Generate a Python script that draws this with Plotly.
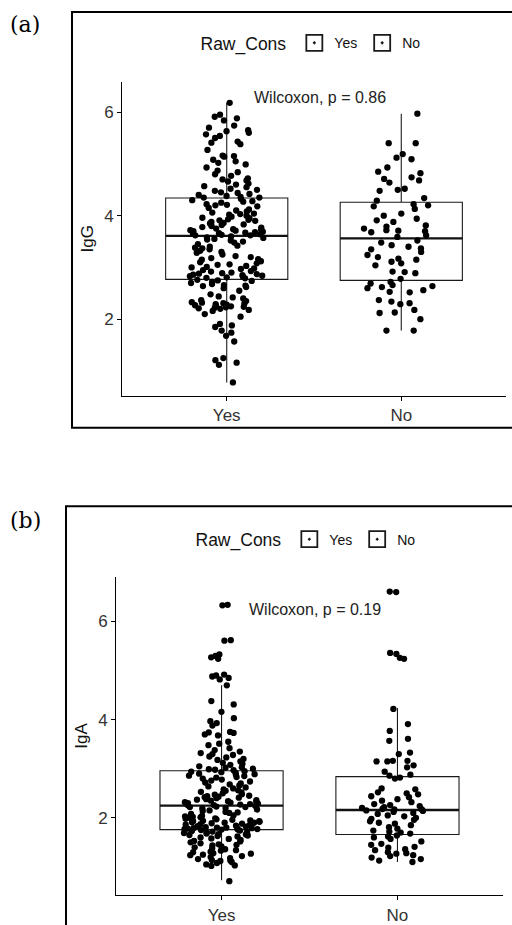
import plotly.graph_objects as go

# ---------------- data ----------------
categories = ["Yes", "No"]

# Panel (a) IgG
igg_yes = [6.18, 5.95, 5.91, 5.88, 5.84, 5.74, 5.70, 5.65, 5.63, 5.60, 5.57, 5.54, 5.50, 5.43, 5.41, 5.38,
           5.27, 5.16, 5.15, 5.14, 5.08, 5.05, 5.02, 4.99, 4.93, 4.87, 4.84, 4.80, 4.77, 4.72, 4.70, 4.68,
           4.66, 4.62, 4.60, 4.57, 4.55, 4.52, 4.50, 4.48, 4.45, 4.44, 4.42, 4.40, 4.38, 4.36, 4.35, 4.35,
           4.32, 4.30, 4.28, 4.27, 4.25, 4.22, 4.21, 4.20, 4.18, 4.15, 4.12, 4.10, 4.08, 4.06, 4.04, 4.03,
           4.02, 4.00, 3.98, 3.96, 3.95, 3.93, 3.92, 3.91, 3.90, 3.88, 3.86, 3.85, 3.83, 3.82, 3.80, 3.78,
           3.77, 3.75, 3.74, 3.73, 3.72, 3.71, 3.70, 3.69, 3.68, 3.67, 3.66, 3.65, 3.64, 3.63, 3.62, 3.62,
           3.60, 3.58, 3.57, 3.55, 3.54, 3.52, 3.50, 3.48, 3.45, 3.42, 3.40, 3.38, 3.37, 3.35, 3.32, 3.30,
           3.28, 3.25, 3.22, 3.20, 3.18, 3.16, 3.15, 3.12, 3.10, 3.08, 3.06, 3.05, 3.03, 3.01, 3.00, 2.98,
           2.97, 2.95, 2.93, 2.92, 2.90, 2.89, 2.88, 2.87, 2.86, 2.85, 2.84, 2.83, 2.82, 2.81, 2.80, 2.79,
           2.76, 2.75, 2.74, 2.72, 2.70, 2.68, 2.66, 2.65, 2.64, 2.62, 2.60, 2.55, 2.48, 2.44, 2.42, 2.40,
           2.37, 2.35, 2.33, 2.32, 2.31, 2.30, 2.29, 2.28, 2.27, 2.26, 2.25, 2.24, 2.23, 2.22, 2.21, 2.20,
           2.18, 2.16, 2.10, 2.05, 1.91, 1.88, 1.85, 1.78, 1.74, 1.68, 1.57, 1.25, 1.21, 1.16, 1.12, 0.78]
igg_no = [5.97, 5.40, 5.40, 5.19, 5.12, 5.09, 4.93, 4.85, 4.82, 4.74, 4.71, 4.68, 4.64, 4.52, 4.50, 4.48,
          4.34, 4.29, 4.22, 4.20, 4.18, 4.13, 4.04, 4.00, 3.94, 3.91, 3.88, 3.81, 3.79, 3.75, 3.72, 3.71,
          3.70, 3.68, 3.62, 3.59, 3.52, 3.48, 3.43, 3.40, 3.37, 3.35, 3.30, 3.24, 3.20, 3.17, 3.15, 3.11,
          3.08, 3.04, 2.92, 2.91, 2.89, 2.78, 2.72, 2.69, 2.66, 2.64, 2.62, 2.60, 2.56, 2.53, 2.52, 2.37,
          2.34, 2.31, 2.29, 2.18, 2.13, 2.12, 2.00, 1.78, 1.78]
igg_q1 = [2.77, 2.75]
igg_median = [3.61, 3.56]
igg_q3 = [4.34, 4.26]
igg_lower = [0.78, 1.78]
igg_upper = [6.18, 5.97]
igg_test = "Wilcoxon, p = 0.86"

# Panel (b) IgA
iga_yes = [6.34, 6.33, 5.62, 5.61, 5.33, 5.30, 5.27, 5.24, 4.92, 4.90, 4.88, 4.85, 4.82, 4.70, 4.38, 4.31,
           4.16, 4.03, 3.97, 3.93, 3.88, 3.75, 3.74, 3.73, 3.70, 3.68, 3.55, 3.51, 3.48, 3.42, 3.38, 3.35,
           3.32, 3.30, 3.28, 3.25, 3.23, 3.20, 3.18, 3.15, 3.12, 3.10, 3.08, 3.05, 3.03, 3.02, 3.00, 2.99,
           2.98, 2.97, 2.95, 2.94, 2.93, 2.92, 2.90, 2.89, 2.88, 2.86, 2.85, 2.83, 2.82, 2.80, 2.78, 2.76,
           2.74, 2.72, 2.70, 2.68, 2.66, 2.64, 2.62, 2.60, 2.58, 2.56, 2.55, 2.53, 2.52, 2.50, 2.48, 2.47,
           2.45, 2.44, 2.43, 2.42, 2.41, 2.40, 2.38, 2.37, 2.36, 2.35, 2.34, 2.33, 2.32, 2.31, 2.30, 2.29,
           2.28, 2.27, 2.26, 2.26, 2.24, 2.23, 2.22, 2.22, 2.20, 2.19, 2.17, 2.15, 2.14, 2.12, 2.11, 2.10,
           2.08, 2.05, 2.04, 2.03, 2.02, 2.01, 2.00, 1.99, 1.98, 1.97, 1.96, 1.95, 1.94, 1.93, 1.93, 1.92,
           1.91, 1.90, 1.90, 1.89, 1.88, 1.87, 1.86, 1.85, 1.84, 1.83, 1.82, 1.81, 1.80, 1.80, 1.79, 1.79,
           1.78, 1.78, 1.77, 1.77, 1.76, 1.76, 1.75, 1.74, 1.73, 1.72, 1.71, 1.70, 1.69, 1.68, 1.67, 1.66,
           1.65, 1.64, 1.63, 1.62, 1.60, 1.58, 1.57, 1.55, 1.53, 1.52, 1.50, 1.48, 1.46, 1.45, 1.44, 1.42,
           1.40, 1.38, 1.36, 1.34, 1.33, 1.31, 1.30, 1.28, 1.27, 1.25, 1.24, 1.22, 1.20, 1.18, 1.16, 1.14,
           1.13, 1.12, 1.10, 1.08, 1.05, 1.03, 1.02, 0.71]
iga_no = [6.61, 6.60, 5.36, 5.34, 5.26, 5.24, 4.22, 3.91, 3.77, 3.61, 3.57, 3.33, 3.30, 3.16, 3.16, 3.15,
          3.15, 3.07, 3.03, 2.94, 2.88, 2.86, 2.82, 2.80, 2.60, 2.58, 2.52, 2.50, 2.48, 2.44, 2.42, 2.38,
          2.35, 2.32, 2.28, 2.26, 2.24, 2.22, 2.20, 2.18, 2.17, 2.17, 2.15, 2.14, 2.12, 2.10, 2.08, 2.05,
          2.03, 2.00, 1.98, 1.96, 1.93, 1.90, 1.88, 1.85, 1.81, 1.78, 1.74, 1.72, 1.70, 1.68, 1.64, 1.62,
          1.60, 1.57, 1.52, 1.47, 1.45, 1.41, 1.39, 1.36, 1.34, 1.30, 1.28, 1.27, 1.24, 1.22, 1.19, 1.16,
          1.13, 1.10]
iga_q1 = [1.76, 1.66]
iga_median = [2.25, 2.16]
iga_q3 = [2.96, 2.84]
iga_lower = [0.73, 1.10]
iga_upper = [4.70, 4.24]
iga_test = "Wilcoxon, p = 0.19"

y_ticks = [2, 4, 6]

# ---------------- figure ----------------
W, H = 512, 925
BOXW = 0.7
SANS = "Liberation Sans, Arial, sans-serif"
fig = go.Figure()

panels = [
    dict(xa="x", ya="y", leg="legend", pts=[igg_yes, igg_no], q1=igg_q1, med=igg_median, q3=igg_q3,
         lo=igg_lower, hi=igg_upper),
    dict(xa="x2", ya="y2", leg="legend2", pts=[iga_yes, iga_no], q1=iga_q1, med=iga_median, q3=iga_q3,
         lo=iga_lower, hi=iga_upper),
]

for p in panels:
    # boxes
    fig.add_trace(go.Box(
        x=categories, q1=p["q1"], median=p["med"], q3=p["q3"],
        lowerfence=p["lo"], upperfence=p["hi"],
        xaxis=p["xa"], yaxis=p["ya"],
        fillcolor="white", line=dict(color="#1a1a1a", width=1.1),
        width=BOXW, whiskerwidth=0, boxpoints=False, showlegend=False,
        hoverinfo="skip"))
    # thick median line
    fig.add_trace(go.Box(
        x=categories, q1=p["med"], median=p["med"], q3=p["med"],
        lowerfence=p["med"], upperfence=p["med"],
        xaxis=p["xa"], yaxis=p["ya"], fillcolor="rgba(0,0,0,0)",
        line=dict(color="#111111", width=2.3), width=BOXW, whiskerwidth=0,
        boxpoints=False, showlegend=False, hoverinfo="skip"))
    # jittered points
    for i, cat in enumerate(categories):
        vals = p["pts"][i]
        fig.add_trace(go.Box(
            x=[cat] * len(vals), y=vals, xaxis=p["xa"], yaxis=p["ya"],
            boxpoints="all", jitter=0.62, pointpos=0, width=BOXW,
            fillcolor="rgba(0,0,0,0)", line=dict(color="rgba(0,0,0,0)", width=0),
            marker=dict(color="black", size=6.3), showlegend=False, hoverinfo="y"))
    # legend keys (box with a point)
    for cat in categories:
        fig.add_trace(go.Scatter(
            x=[None], y=[None], mode="markers", name=cat, legend=p["leg"],
            xaxis=p["xa"], yaxis=p["ya"],
            marker=dict(symbol="square-open-dot", size=17, color="#1a1a1a",
                        line=dict(width=1.8, color="#1a1a1a"))))

tickfont = dict(family=SANS, size=17, color="#333333")
titlefont = dict(family=SANS, size=17, color="#111111")

def xaxis_cfg(domain, anchor):
    return dict(domain=domain, anchor=anchor, type="category", categoryorder="array",
                categoryarray=categories, range=[-0.6, 1.6], showline=True, linecolor="black",
                linewidth=1, ticks="outside", ticklen=4, tickcolor="black", tickfont=tickfont,
                showgrid=False, zeroline=False, fixedrange=True)

def yaxis_cfg(domain, anchor, rng, title):
    return dict(domain=domain, anchor=anchor, range=rng, tickvals=y_ticks, showline=True,
                linecolor="black", linewidth=1, ticks="outside", ticklen=4, tickcolor="black",
                tickfont=tickfont, showgrid=False, zeroline=False,
                title=dict(text=title, font=titlefont, standoff=6), fixedrange=True)

def legend_cfg(x, y):
    return dict(orientation="h", x=x, xanchor="center", y=y, yanchor="middle",
                title=dict(text="Raw_Cons", side="left", font=dict(family=SANS, size=17.5, color="#111")),
                font=dict(family=SANS, size=14, color="#111"),
                bgcolor="rgba(0,0,0,0)", itemwidth=30)

fig.update_layout(
    width=W, height=H, autosize=False,
    margin=dict(l=0, r=0, t=0, b=0),
    paper_bgcolor="white", plot_bgcolor="white",
    boxmode="overlay",
    xaxis=xaxis_cfg([122 / W, 506 / W], "y"),
    yaxis=yaxis_cfg([1 - 398 / H, 1 - 82 / H], "x", [0.52, 6.59], "IgG"),
    xaxis2=xaxis_cfg([116 / W, 503 / W], "y2"),
    yaxis2=yaxis_cfg([1 - 900 / H, 1 - 580 / H], "x2", [0.425, 6.91], "IgA"),
    legend=legend_cfg(312 / W, 1 - 44 / H),
    legend2=legend_cfg(307 / W, 1 - 543 / H),
    showlegend=True,
)

# test annotations
fig.add_annotation(x=0.143, y=6.29, xref="x", yref="y", text=igg_test, showarrow=False,
                   xanchor="left", yanchor="middle", font=dict(family=SANS, size=16, color="#222"))
fig.add_annotation(x=0.145, y=6.25, xref="x2", yref="y2", text=iga_test, showarrow=False,
                   xanchor="left", yanchor="middle", font=dict(family=SANS, size=16, color="#222"))

# panel letters
fig.add_annotation(x=8 / W, y=1 - 25 / H, xref="paper", yref="paper", text="(a)", showarrow=False,
                   xanchor="left", yanchor="middle",
                   font=dict(family="DejaVu Serif, serif", size=22, color="black"))
fig.add_annotation(x=8 / W, y=1 - 523 / H, xref="paper", yref="paper", text="(b)", showarrow=False,
                   xanchor="left", yanchor="middle",
                   font=dict(family="DejaVu Serif, serif", size=22, color="black"))

# panel frames
fig.add_shape(type="rect", xref="paper", yref="paper", x0=72 / W, x1=1.01, y0=1 - 430 / H, y1=1 - 12 / H,
              line=dict(color="black", width=2), fillcolor="rgba(0,0,0,0)", layer="above")
fig.add_shape(type="rect", xref="paper", yref="paper", x0=66 / W, x1=1.01, y0=-0.05, y1=1 - 509 / H,
              line=dict(color="black", width=2), fillcolor="rgba(0,0,0,0)", layer="above")

fig.write_html("out.html", config={"displayModeBar": False},
               post_script="document.body.style.margin='0';document.body.style.overflow='hidden';")
